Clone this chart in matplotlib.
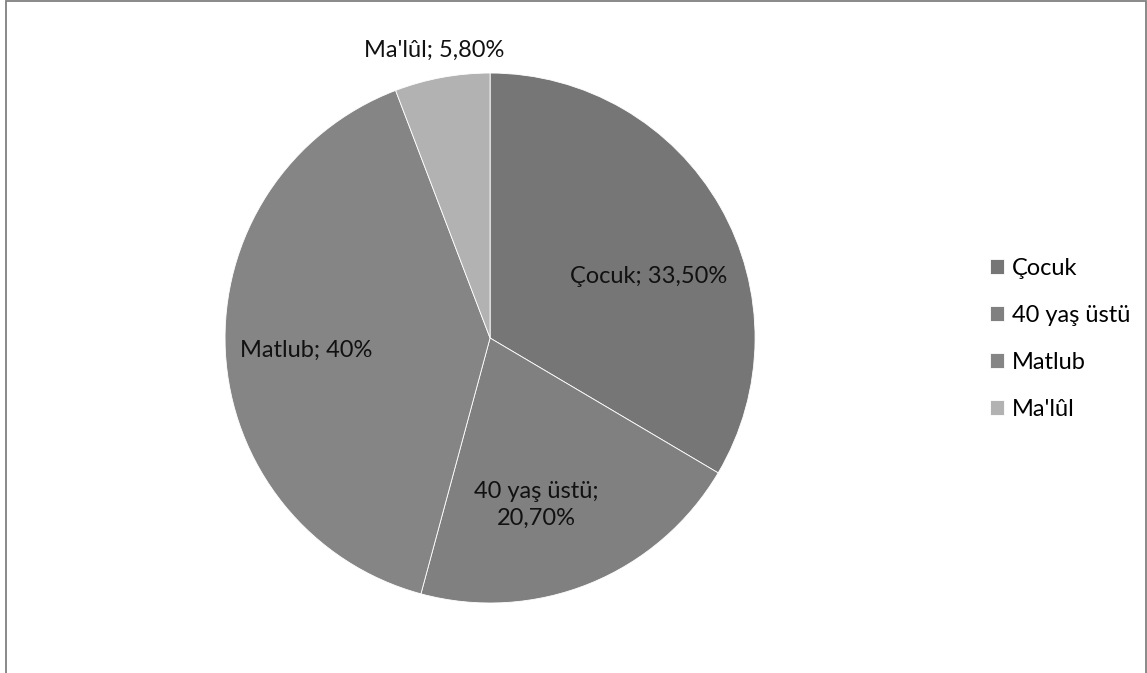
import matplotlib.pyplot as plt
from matplotlib.patches import Rectangle

categories = ["Çocuk", "40 yaş üstü", "Matlub", "Ma'lûl"]
values = [33.5, 20.7, 40.0, 5.8]
value_labels = ["33,50%", "20,70%", "40%", "5,80%"]
colors = ["#767676", "#808080", "#858585", "#b2b2b2"]

# label positions in pie radius units (Excel "best fit" placement)
label_pos = [(0.600, 0.234), (0.174, -0.630), (-0.694, -0.045), (-0.211, 1.087)]
label_text = [
    "Çocuk; 33,50%",
    "40 yaş üstü;\n20,70%",
    "Matlub; 40%",
    "Ma'lûl; 5,80%",
]

plt.rcParams["font.family"] = ["Lato", "DejaVu Sans"]


def main():
    fig = plt.figure(figsize=(11.47, 6.73), dpi=100)

    # outer chart border
    fig.patches.append(Rectangle((6 / 1147, -0.05), 1140 / 1147, 1.05 - 1.5 / 673,
                                 transform=fig.transFigure, fill=False,
                                 edgecolor="#808080", linewidth=1.3))

    ax = fig.add_axes([0.1962, 0.1040, 0.4621, 0.7875])
    wedges, _ = ax.pie(values, colors=colors, startangle=90, counterclock=False,
                       wedgeprops={"edgecolor": "white", "linewidth": 0.6})
    ax.set_xlim(-1, 1)
    ax.set_ylim(-1, 1)
    ax.set_aspect("auto")

    for (x, y), txt in zip(label_pos, label_text):
        ax.text(x, y, txt, ha="center", va="center", fontsize=17,
                color="#111111", linespacing=1.35)

    fig.legend(wedges, categories, loc="center left",
               bbox_to_anchor=(978 / 1147, (673 - 339) / 673),
               frameon=False, fontsize=17, handlelength=0.6, handleheight=0.6,
               handletextpad=0.35, labelspacing=1.1, borderpad=0)

    fig.savefig("out.png", dpi=100)
    plt.close(fig)


if __name__ == "__main__":
    main()
